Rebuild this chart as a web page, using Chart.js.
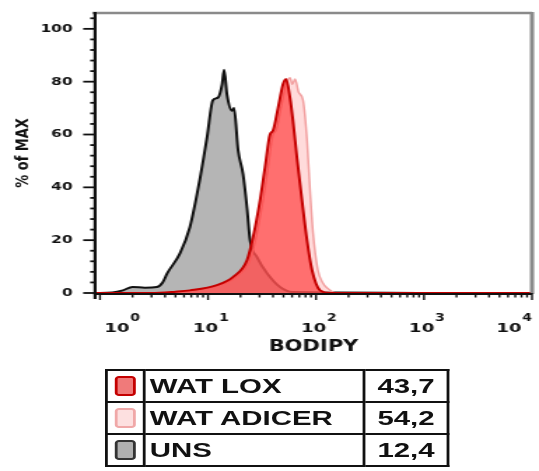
<!DOCTYPE html>
<html>
<head>
<meta charset="utf-8">
<script src="https://cdn.jsdelivr.net/npm/chart.js@4.4.0/dist/chart.umd.min.js"></script>
<style>
  html, body { margin: 0; padding: 0; background: #fff; overflow: hidden; }
  /* the reference is stretched sideways, so the whole stage is too */
  #stage { position: relative; width: 385px; height: 471px; transform: scaleX(1.4); transform-origin: 0 0; }
  #histo { position: absolute; left: 0; top: 0; }
  #legendTable {
    position: absolute; left: 75px; top: 369px;
    border-collapse: collapse; table-layout: fixed; width: 244px;
    font: bold 21px "Liberation Sans", Arial, sans-serif; color: #111;
  }
  #legendTable td { border: 2px solid #111; height: 30px; padding: 0 3px; white-space: nowrap; line-height: 30px; }
  #legendTable td.sw { text-align: center; padding: 0; }
  #legendTable td.val { text-align: center; padding: 0; }
  .swatch { display: inline-block; width: 11px; height: 16px; border: 2px solid; border-radius: 3px; vertical-align: middle; margin-top: -3px; }
</style>
</head>
<body>
<div id="stage">
  <canvas id="histo" width="385" height="362"></canvas>
  <table id="legendTable">
    <colgroup><col style="width:27px"><col style="width:157px"><col style="width:60px"></colgroup>
    <tbody id="legendBody"></tbody>
  </table>
</div>
<script>
// --- data ---
const seriesNames = ['WAT LOX', 'WAT ADICER', 'UNS'];
const seriesStats = ['43,7', '54,2', '12,4'];

const loxX = [0.9, 3, 5, 6.8, 12.1, 17, 23, 26.1, 30.3, 33.7, 37.5, 40, 44.5, 49.5, 52.8, 57.4, 61.3, 66.7, 74.2, 82.5, 91.8, 109, 135, 10000];
const loxY = [0, 0, 0.5, 1, 3, 6, 12.5, 21, 35, 47.5, 60, 61.5, 70, 79, 81, 74, 65, 51, 35, 20, 8.7, 1, 0, 0];

const adicerX = [0.9, 3, 5.5, 7.3, 12.9, 18.1, 24.5, 27.8, 32.3, 36, 40, 42.6, 47.4, 52.8, 57.4, 60.5, 64, 69, 75.8, 82.5, 88, 93.7, 104, 115, 126, 156, 10000];
const adicerY = [0, 0, 0.5, 1, 3, 6, 12.5, 21, 35, 47.5, 60, 61.5, 70, 79, 81.5, 79, 81, 76, 73, 58, 39, 23, 8.7, 4, 2, 0, 0];

const unsX = [0.9, 1.3, 1.63, 2.0, 2.6, 3.37, 3.8, 4.2, 5.5, 6.8, 8.4, 9.8, 11.1, 12.4, 13.5, 14.1, 15.0, 16.7, 17.4, 19.0, 21.1, 23.0, 24.5, 28.4, 35.2, 46.4, 61, 10000];
const unsY = [0, 0.2, 1.0, 2.3, 2.0, 2.3, 4, 7.5, 15, 25, 43, 59, 73, 74, 79, 84.5, 75, 69, 70, 54, 45, 32, 20, 13.6, 7.5, 2.3, 0.4, 0];

const decades = [1, 10, 100, 1000, 10000];
const decadeExp = ['0', '1', '2', '3', '4'];

const fills = ['rgba(255,40,40,0.6)', 'rgba(255,190,190,0.55)', '#b5b5b5'];
const lines = ['#c40000', '#f2a0a0', '#111111'];
const swatchFill = ['#f07a7a', '#fde0e0', '#b0b0b0'];
const swatchLine = ['#c40000', '#f0a8a8', '#333333'];

const toPoints = (xs, ys) => xs.map((x, i) => ({ x: x, y: ys[i] }));

// legend table
const body = document.getElementById('legendBody');
seriesNames.forEach((name, i) => {
  const tr = document.createElement('tr');
  tr.innerHTML = '<td class="sw"><span class="swatch" style="background:' + swatchFill[i] +
    ';border-color:' + swatchLine[i] + '"></span></td><td>' + name + '</td><td class="val">' + seriesStats[i] + '</td>';
  body.appendChild(tr);
});

// frame, tick marks and decade labels
const axisFrame = {
  id: 'axisFrame',
  afterDatasetsDraw(chart) {
    const { ctx, chartArea: a, scales: { x, y } } = chart;
    const seg = (x1, y1, x2, y2) => { ctx.beginPath(); ctx.moveTo(x1, y1); ctx.lineTo(x2, y2); ctx.stroke(); };
    ctx.save();
    ctx.strokeStyle = '#8a8a8a';
    ctx.lineWidth = 2.5;
    seg(a.left - 2, a.top, a.right, a.top);
    ctx.lineWidth = 3;
    seg(a.right, a.top - 1, a.right, a.bottom + 1);

    ctx.strokeStyle = '#111';
    ctx.lineWidth = 1.8;
    for (let v = 0; v <= 104; v += 4) {
      const py = y.getPixelForValue(v);
      seg(a.left - (v % 20 === 0 ? 8.5 : 3.5), py, a.left, py);
    }
    ctx.lineWidth = 1.4;
    decades.forEach(d => {
      for (let m = 1; m <= 9; m++) {
        const v = d * m;
        if (v > x.max) break;
        const px = x.getPixelForValue(v);
        seg(px, a.bottom, px, a.bottom + (m === 1 ? 7 : 4.5));
      }
    });
    ctx.lineWidth = 2.2;
    seg(a.left, a.top - 1, a.left, a.bottom + 6);
    ctx.lineWidth = 2;
    seg(a.left - 1, a.bottom + 1, a.right, a.bottom + 1);

    ctx.fillStyle = '#111';
    ctx.textBaseline = 'alphabetic';
    ctx.textAlign = 'left';
    decades.forEach((d, i) => {
      const px = x.getPixelForValue(d);
      ctx.font = 'bold 13px "DejaVu Sans"';
      const wb = ctx.measureText('10').width;
      ctx.font = 'bold 10px "DejaVu Sans"';
      const we = ctx.measureText(decadeExp[i]).width;
      const total = wb + we + 0.5;
      let start = px - total / 2 + 2;
      if (i === 0) start = px + 3;
      if (i === decades.length - 1) start = px - total;
      ctx.font = 'bold 13px "DejaVu Sans"';
      ctx.fillText('10', start, 332);
      ctx.font = 'bold 10px "DejaVu Sans"';
      ctx.fillText(decadeExp[i], start + wb + 0.5, 321);
    });
    ctx.restore();
  }
};

new Chart(document.getElementById('histo'), {
  type: 'line',
  data: {
    datasets: [
      { label: seriesNames[0], data: toPoints(loxX, loxY), backgroundColor: fills[0], borderColor: lines[0], borderWidth: 2, fill: 'origin' },
      { label: seriesNames[1], data: toPoints(adicerX, adicerY), backgroundColor: fills[1], borderColor: lines[1], borderWidth: 1.5, fill: 'origin' },
      { label: seriesNames[2], data: toPoints(unsX, unsY), backgroundColor: fills[2], borderColor: lines[2], borderWidth: 2, fill: 'origin' }
    ]
  },
  options: {
    responsive: false,
    devicePixelRatio: 1,
    animation: false,
    layout: { padding: { top: 13, right: 5, left: 0, bottom: 0 } },
    elements: { point: { radius: 0 }, line: { cubicInterpolationMode: 'monotone' } },
    plugins: {
      legend: { display: false },
      tooltip: { enabled: false },
      filler: { drawTime: 'beforeDatasetDraw' }
    },
    scales: {
      x: {
        type: 'logarithmic',
        min: 0.9,
        max: 10000,
        grid: { display: false, drawTicks: false },
        border: { display: false },
        ticks: { display: false },
        title: {
          display: true, text: 'BODIPY', color: '#111',
          font: { family: 'DejaVu Sans', weight: 'bold', size: 15 },
          padding: { top: 0, bottom: 5.5 }
        },
        afterFit: s => { s.height = 69; s.paddingLeft = 0; s.paddingRight = 0; }
      },
      y: {
        min: 0,
        max: 106,
        grid: { display: false, drawTicks: false },
        border: { display: false },
        ticks: {
          stepSize: 20, padding: 16, color: '#111', autoSkip: false,
          font: { family: 'DejaVu Sans', weight: 'bold', size: 11 },
          callback: v => (v <= 100 ? String(v) : '')
        },
        title: {
          display: true, text: '% of MAX', color: '#111',
          font: { family: 'DejaVu Sans', weight: 'bold', size: 13 },
          padding: { top: 9, bottom: 0 }
        },
        afterFit: s => { s.width = 67.9; s.paddingTop = 0; s.paddingBottom = 0; }
      }
    }
  },
  plugins: [axisFrame]
});
</script>
</body>
</html>
